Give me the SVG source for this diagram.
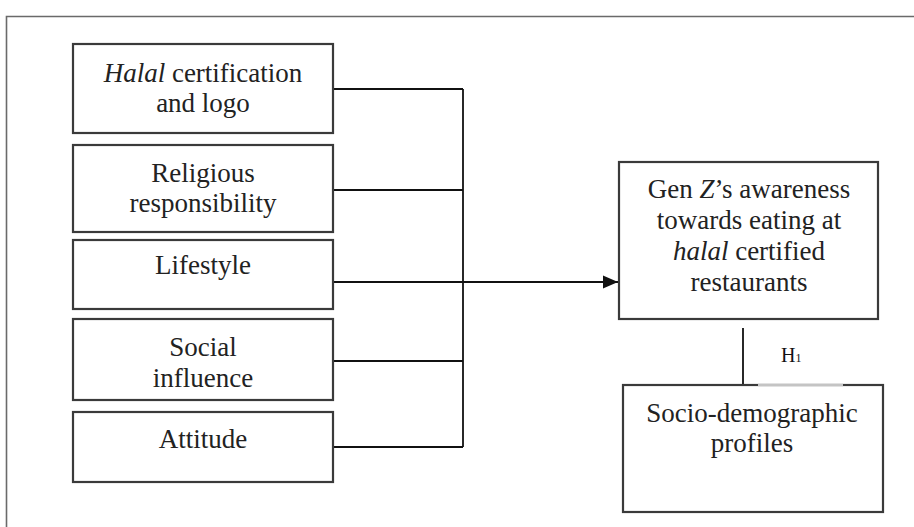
<svg xmlns="http://www.w3.org/2000/svg" width="914" height="527" viewBox="0 0 914 527">
  <style>
    .box { fill: #ffffff; stroke: #3a3a3a; stroke-width: 2.2; }
    .t { font-family: "Liberation Serif", serif; font-size: 27px; fill: #222222; text-anchor: middle; }
    .it { font-style: italic; }
    .h { font-family: "Liberation Serif", serif; font-size: 20px; fill: #111111; }
    .conn { fill: none; stroke: #111111; stroke-width: 1.8; }
    .frame { fill: none; stroke: #6a6a6a; stroke-width: 1.6; }
  </style>
  <defs>
    <marker id="arrow" markerWidth="16" markerHeight="14" refX="15" refY="7" orient="auto" markerUnits="userSpaceOnUse">
      <polygon points="0,0.5 15,7 0,13.5" fill="#111111"/>
    </marker>
  </defs>
  <rect width="914" height="527" fill="#ffffff"/>
  <path class="frame" d="M6.5,527 V16.5 H914"/>

  <g id="connectors">
    <polyline class="conn" points="333,89 463,89"/>
    <polyline class="conn" points="333,190 463,190"/>
    <polyline class="conn" points="333,361 463,361"/>
    <polyline class="conn" points="333,447 463,447"/>
    <line class="conn" x1="463" y1="89" x2="463" y2="447"/>
    <line class="conn" x1="333" y1="282" x2="618" y2="282" marker-end="url(#arrow)"/>
    <line class="conn" x1="743" y1="328" x2="743" y2="385"/>
  </g>

  <g id="n-halal">
    <rect class="box" x="73" y="44" width="260" height="89"/>
    <text class="t" x="203" y="82"><tspan class="it">Halal</tspan> certification</text>
    <text class="t" x="203" y="112">and logo</text>
  </g>
  <g id="n-religious">
    <rect class="box" x="73" y="145" width="260" height="87"/>
    <text class="t" x="203" y="182">Religious</text>
    <text class="t" x="203" y="212">responsibility</text>
  </g>
  <g id="n-lifestyle">
    <rect class="box" x="73" y="240" width="260" height="69"/>
    <text class="t" x="203" y="274">Lifestyle</text>
  </g>
  <g id="n-social">
    <rect class="box" x="73" y="319" width="260" height="81"/>
    <text class="t" x="203" y="356">Social</text>
    <text class="t" x="203" y="387">influence</text>
  </g>
  <g id="n-attitude">
    <rect class="box" x="73" y="412" width="260" height="70"/>
    <text class="t" x="203" y="448">Attitude</text>
  </g>

  <g id="n-awareness">
    <rect class="box" x="619" y="162" width="259" height="157"/>
    <text class="t" x="749" y="198">Gen <tspan class="it">Z</tspan>’s awareness</text>
    <text class="t" x="749" y="229">towards eating at</text>
    <text class="t" x="749" y="260"><tspan class="it">halal</tspan> certified</text>
    <text class="t" x="749" y="291">restaurants</text>
  </g>

  <g id="n-socio">
    <rect class="box" x="623" y="385" width="260" height="127"/>
    <line x1="758" y1="385" x2="843" y2="385" stroke="#c4c4c4" stroke-width="2.4"/>
    <text class="t" x="752" y="422">Socio-demographic</text>
    <text class="t" x="752" y="452">profiles</text>
  </g>

  <g id="label-h1">
    <text class="h" x="781" y="362">H<tspan font-size="12">1</tspan></text>
  </g>
</svg>
